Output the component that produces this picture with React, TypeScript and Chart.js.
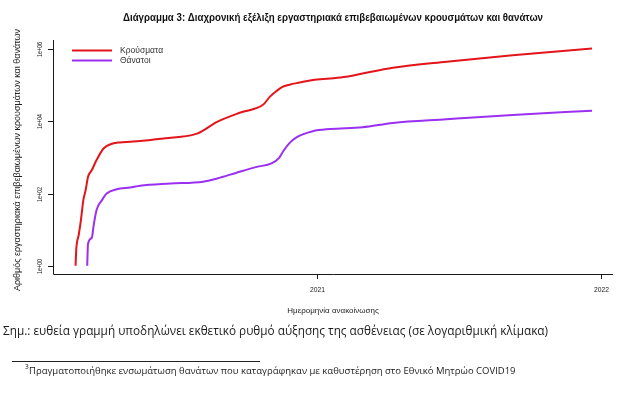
import React, { useEffect, useRef } from "react";
import { Chart, registerables } from "chart.js";

Chart.register(...registerables);

// ---- data ----
const caseDates = [
  "2020-02-26", "2020-02-27", "2020-03-01", "2020-03-04", "2020-03-07", "2020-03-10",
  "2020-03-13", "2020-03-18", "2020-03-24", "2020-04-02", "2020-04-11", "2020-04-23",
  "2020-05-06", "2020-05-19", "2020-06-18", "2020-07-05", "2020-08-01", "2020-08-26",
  "2020-09-25", "2020-10-24", "2020-11-02", "2020-11-10", "2020-11-18", "2020-11-27",
  "2020-12-10", "2020-12-27", "2021-01-18", "2021-02-08", "2021-03-01", "2021-04-09",
  "2021-06-17", "2021-09-10", "2021-12-21",
];
const caseValues = [
  1, 3, 7, 19, 66, 126,
  290, 450, 850, 1780, 2340, 2630,
  2750, 2880, 3390, 3630, 4700, 9770,
  17800, 29000, 49000, 69000, 91000, 105000,
  120000, 141000, 155000, 174000, 214000, 309000,
  457000, 692000, 1050000,
];
const deathDates = [
  "2020-03-12", "2020-03-13", "2020-03-18", "2020-03-20", "2020-03-24", "2020-03-31",
  "2020-04-06", "2020-04-19", "2020-05-06", "2020-05-19", "2020-06-27", "2020-08-08",
  "2020-08-26", "2020-09-20", "2020-10-16", "2020-11-04", "2020-11-14", "2020-11-19",
  "2020-11-27", "2020-12-06", "2020-12-27", "2021-01-18", "2021-03-01", "2021-04-09",
  "2021-06-17", "2021-09-10", "2021-12-21",
];
const deathValues = [
  1, 4, 6, 12, 35, 66,
  100, 132, 148, 166, 190, 214,
  263, 380, 550, 690, 1000, 1500,
  2510, 3630, 5370, 6170, 6920, 9120,
  11500, 15100, 20000,
];
const seriesNames = ["Κρούσματα", "Θάνατοι"];
const seriesColors = ["#E3141A", "#9B30F0"];
const yTickValues = [1, 100, 10000, 1000000];
const yTickLabels = ["1e+00", "1e+02", "1e+04", "1e+06"];
const xTickDates = ["2021-01-01", "2022-01-01"];
const xTickLabels = ["2021", "2022"];
const xRangeDates = ["2020-01-28", "2022-01-17"];
const yRange = [0.589, 1820000];

const titleText =
  "Διάγραμμα 3: Διαχρονική εξέλιξη εργαστηριακά επιβεβαιωμένων κρουσμάτων και θανάτων";
const xTitle = "Ημερομηνία ανακοίνωσης";
const yTitle = "Αριθμός εργαστηριακά επιβεβαιωμένων κρουσμάτων και θανάτων";
const noteText =
  "Σημ.: ευθεία γραμμή υποδηλώνει εκθετικό ρυθμό αύξησης της ασθένειας (σε λογαριθμική κλίμακα)";
const footMark = "3";
const footText =
  "Πραγματοποιήθηκε ενσωμάτωση θανάτων που καταγράφηκαν με καθυστέρηση στο Εθνικό Μητρώο COVID19";

const ORIGIN = Date.UTC(2021, 0, 1);
const dayOf = (s: string) => (Date.parse(s) - ORIGIN) / 86400000;

const FONT = '"Liberation Sans", "DejaVu Sans", sans-serif';
const NOTE_FONT = '"Open Sans", "Liberation Sans", sans-serif';

const decorPlugin = {
  id: "decor",
  afterDraw(chart: any) {
    const { ctx, chartArea, scales } = chart;
    const { left, right, top, bottom } = chartArea;
    const xs = scales.x;
    const ys = scales.y;
    ctx.save();
    ctx.strokeStyle = "#1a1a1a";
    ctx.lineWidth = 1;
    // L-shaped box
    ctx.beginPath();
    ctx.moveTo(left + 0.5, top);
    ctx.lineTo(left + 0.5, bottom + 0.5);
    ctx.lineTo(right, bottom + 0.5);
    ctx.stroke();

    // y ticks & labels
    ctx.fillStyle = "#222";
    ctx.font = `7px ${FONT}`;
    ctx.textAlign = "center";
    ctx.textBaseline = "middle";
    yTickValues.forEach((v, i) => {
      const py = Math.round(ys.getPixelForValue(v)) + 0.5;
      ctx.beginPath();
      ctx.moveTo(left - 5, py);
      ctx.lineTo(left, py);
      ctx.stroke();
      ctx.save();
      ctx.translate(left - 13, py);
      ctx.rotate(-Math.PI / 2);
      ctx.fillText(yTickLabels[i], 0, 0, 15);
      ctx.restore();
    });

    // x ticks & labels
    xTickDates.forEach((d, i) => {
      const px = Math.round(xs.getPixelForValue(dayOf(d))) + 0.5;
      ctx.beginPath();
      ctx.moveTo(px, bottom);
      ctx.lineTo(px, bottom + 5);
      ctx.stroke();
      ctx.fillText(xTickLabels[i], px, bottom + 16, 15);
    });

    // axis titles
    ctx.font = `8px ${FONT}`;
    ctx.fillStyle = "#222";
    ctx.fillText(xTitle, (left + right) / 2, bottom + 37, 100);
    ctx.save();
    ctx.translate(18, (top + bottom) / 2 + 3);
    ctx.rotate(-Math.PI / 2);
    ctx.font = `9px ${FONT}`;
    ctx.fillText(yTitle, 0, 0, 262);
    ctx.restore();

    // title
    ctx.font = `bold 10.5px ${FONT}`;
    ctx.fillStyle = "#111";
    ctx.fillText(titleText, (left + right) / 2, 18, 420);

    // legend
    const legY = [top + 10.5, top + 20.5];
    seriesNames.forEach((name, i) => {
      ctx.strokeStyle = seriesColors[i];
      ctx.lineWidth = 2;
      ctx.beginPath();
      ctx.moveTo(left + 19, legY[i]);
      ctx.lineTo(left + 59, legY[i]);
      ctx.stroke();
      ctx.fillStyle = "#333";
      ctx.font = `8.5px ${FONT}`;
      ctx.textAlign = "left";
      ctx.fillText(name, left + 67, legY[i], 44);
    });

    // note below chart
    ctx.textAlign = "left";
    ctx.fillStyle = "#1a1a1a";
    ctx.font = `12px ${NOTE_FONT}`;
    ctx.fillText(noteText, 3, 332, 545);

    // footnote separator
    ctx.strokeStyle = "#222";
    ctx.lineWidth = 1;
    ctx.beginPath();
    ctx.moveTo(12, 361.5);
    ctx.lineTo(260, 361.5);
    ctx.stroke();

    ctx.font = `6.5px ${NOTE_FONT}`;
    ctx.fillText(footMark, 25, 367);
    ctx.font = `9.5px ${NOTE_FONT}`;
    ctx.fillText(footText, 29, 371, 505);
    ctx.restore();
  },
};

export default function App() {
  const canvasRef = useRef<HTMLCanvasElement | null>(null);

  useEffect(() => {
    document.body.style.margin = "0";
    const canvas = canvasRef.current;
    if (!canvas) return;
    const chart = new Chart(canvas, {
      type: "line",
      data: {
        datasets: [
          {
            label: seriesNames[0],
            data: caseDates.map((d, i) => ({ x: dayOf(d), y: caseValues[i] })),
            borderColor: seriesColors[0],
            backgroundColor: seriesColors[0],
          },
          {
            label: seriesNames[1],
            data: deathDates.map((d, i) => ({ x: dayOf(d), y: deathValues[i] })),
            borderColor: seriesColors[1],
            backgroundColor: seriesColors[1],
          },
        ],
      },
      options: {
        responsive: false,
        animation: false,
        devicePixelRatio: 1,
        layout: { padding: { left: 53, top: 40, right: 15, bottom: 120 } },
        elements: {
          point: { radius: 0 },
          line: { borderWidth: 2, cubicInterpolationMode: "monotone" },
        },
        plugins: {
          legend: { display: false },
          title: { display: false },
          tooltip: { enabled: false },
        },
        scales: {
          x: {
            type: "linear",
            min: dayOf(xRangeDates[0]),
            max: dayOf(xRangeDates[1]),
            display: false,
          },
          y: {
            type: "logarithmic",
            min: yRange[0],
            max: yRange[1],
            display: false,
          },
        },
      },
      plugins: [decorPlugin],
    });
    return () => chart.destroy();
  }, []);

  return (
    <div style={{ width: 628, height: 394, background: "#fff" }}>
      <canvas ref={canvasRef} width={628} height={394} style={{ display: "block" }} />
    </div>
  );
}
